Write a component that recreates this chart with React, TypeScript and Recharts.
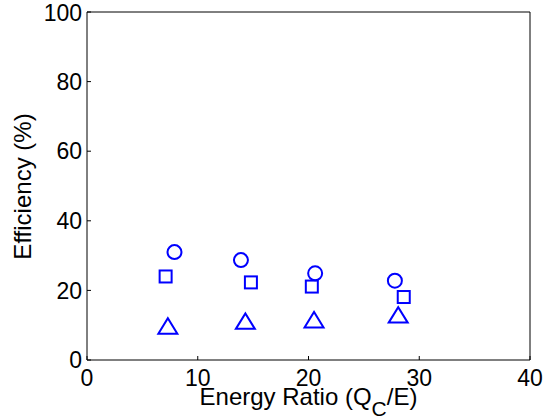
import { ScatterChart, Scatter, XAxis, YAxis, Label } from 'recharts';

const xTicks = [0, 10, 20, 30, 40];
const yTicks = [0, 20, 40, 60, 80, 100];

const circlePts = [
  { x: 7.9, y: 31.0 },
  { x: 13.9, y: 28.7 },
  { x: 20.6, y: 24.9 },
  { x: 27.8, y: 22.8 },
];
const squarePts = [
  { x: 7.1, y: 24.0 },
  { x: 14.8, y: 22.3 },
  { x: 20.3, y: 21.1 },
  { x: 28.6, y: 18.1 },
];
const trianglePts = [
  { x: 7.3, y: 9.7 },
  { x: 14.3, y: 11.1 },
  { x: 20.5, y: 11.5 },
  { x: 28.1, y: 12.9 },
];

const BLUE = '#0000ff';
const FONT = '"Liberation Sans", Arial, Helvetica, sans-serif';

const CircleMark = (p: any) => (
  <circle cx={p.cx} cy={p.cy} r={7} fill="none" stroke={BLUE} strokeWidth={2} />
);
const SquareMark = (p: any) => (
  <rect x={p.cx - 6} y={p.cy - 6} width={12} height={12} fill="none" stroke={BLUE} strokeWidth={2} />
);
const TriangleMark = (p: any) => {
  const pts = `${p.cx - 9.5},${p.cy + 7.5} ${p.cx + 9.5},${p.cy + 7.5} ${p.cx},${p.cy - 8}`;
  return <polygon points={pts} fill="none" stroke={BLUE} strokeWidth={2} strokeLinejoin="miter" />;
};

const XTitle = (props: any) => {
  const vb = props.viewBox;
  const cx = vb.x + vb.width / 2;
  return (
    <text x={cx} y={vb.y + 45} textAnchor="middle" fontFamily={FONT} fontSize={24} fill="#000">
      Energy Ratio (Q
      <tspan dy={11} fontSize={21}>C</tspan>
      <tspan dy={-11}>/E)</tspan>
    </text>
  );
};

const YTitle = () => (
  <text
    x={31}
    y={186.5}
    transform="rotate(-90, 31, 186.5)"
    textAnchor="middle"
    fontFamily={FONT}
    fontSize={24}
    fill="#000"
  >
    Efficiency (%)
  </text>
);

const noTick = () => <g />;

export default function App() {
  const tickStyle = { fontFamily: FONT, fontSize: 23, fill: '#000' };
  return (
    <div style={{ width: 544, height: 419, background: '#fff' }}>
      <style>{'body{margin:0;}'}</style>
      <ScatterChart width={544} height={419} margin={{ top: 0, right: 0, bottom: 0, left: 0 }}>
        <XAxis
          xAxisId="top"
          orientation="top"
          type="number"
          dataKey="x"
          domain={[0, 40]}
          ticks={xTicks}
          height={12}
          tick={noTick}
          tickSize={-4}
          axisLine={{ stroke: '#000', strokeWidth: 1 }}
          tickLine={{ stroke: '#000' }}
        />
        <XAxis
          type="number"
          dataKey="x"
          domain={[0, 40]}
          ticks={xTicks}
          height={59}
          tick={tickStyle}
          tickSize={-4}
          tickMargin={14}
          axisLine={{ stroke: '#000', strokeWidth: 1 }}
          tickLine={{ stroke: '#000' }}
        >
          <Label content={XTitle} />
        </XAxis>
        <YAxis
          type="number"
          dataKey="y"
          domain={[0, 100]}
          ticks={yTicks}
          width={87}
          tick={tickStyle}
          tickSize={-4}
          tickMargin={9}
          axisLine={{ stroke: '#000', strokeWidth: 1 }}
          tickLine={{ stroke: '#000' }}
        >
          <Label content={YTitle} />
        </YAxis>
        <YAxis
          yAxisId="right"
          orientation="right"
          type="number"
          dataKey="y"
          domain={[0, 100]}
          ticks={yTicks}
          width={14}
          tick={noTick}
          tickSize={-4}
          axisLine={{ stroke: '#000', strokeWidth: 1 }}
          tickLine={{ stroke: '#000' }}
        />
        <Scatter data={circlePts} shape={CircleMark} isAnimationActive={false} />
        <Scatter data={squarePts} shape={SquareMark} isAnimationActive={false} />
        <Scatter data={trianglePts} shape={TriangleMark} isAnimationActive={false} />
      </ScatterChart>
    </div>
  );
}
